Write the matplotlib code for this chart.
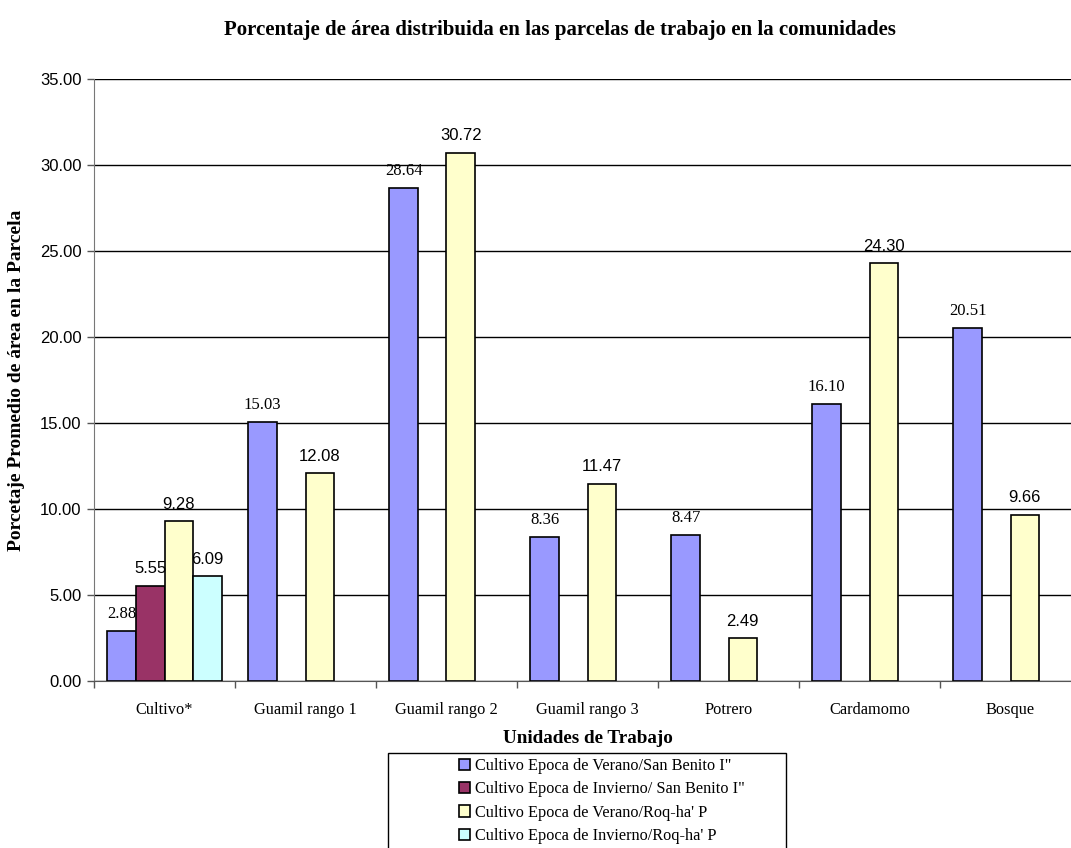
import matplotlib
matplotlib.use("Agg")
import matplotlib.pyplot as plt
from matplotlib.patches import Patch, Rectangle
import numpy as np

categorias = ['Cultivo*', 'Guamil rango 1', 'Guamil rango 2', 'Guamil rango 3',
              'Potrero', 'Cardamomo', 'Bosque']
verano_sb = [2.88, 15.03, 28.64, 8.36, 8.47, 16.10, 20.51]
invierno_sb = [5.55, np.nan, np.nan, np.nan, np.nan, np.nan, np.nan]
verano_rp = [9.28, 12.08, 30.72, 11.47, 2.49, 24.30, 9.66]
invierno_rp = [6.09, np.nan, np.nan, np.nan, np.nan, np.nan, np.nan]

series = [
    ('Cultivo Epoca de Verano/San Benito I"', verano_sb, '#9999FF', 'Liberation Serif'),
    ('Cultivo Epoca de Invierno/ San Benito I"', invierno_sb, '#993366', 'Liberation Sans'),
    ("Cultivo Epoca de Verano/Roq-ha' P", verano_rp, '#FFFFCC', 'Liberation Sans'),
    ("Cultivo Epoca de Invierno/Roq-ha' P", invierno_rp, '#CCFFFF', 'Liberation Sans'),
]

W, H = 1071, 848
fig = plt.figure(figsize=(W / 100, H / 100), dpi=100)
ax = fig.add_axes([94 / W, 1 - 681 / H, 987 / W, 602 / H])

x = np.arange(len(categorias))
width = 0.2025
handles = []
for i, (nombre, vals, color, fuente) in enumerate(series):
    pos = x + (i - 1.5) * width
    vals = np.array(vals, dtype=float)
    ok = ~np.isnan(vals)
    ax.bar(pos[ok], vals[ok], width, color=color, edgecolor='black', linewidth=1.2, zorder=3)
    for p, v in zip(pos[ok], vals[ok]):
        ax.text(p, v + 0.55, '%.2f' % v, ha='center', va='bottom',
                fontsize=12, family=fuente, zorder=4)
    handles.append(Patch(facecolor=color, edgecolor='black', linewidth=1.2, label=nombre))

ax.set_xlim(-0.5, len(categorias) - 0.5)
ax.set_ylim(0, 35)
yt = np.arange(0, 35.01, 5)
ax.set_yticks(yt)
ax.set_yticklabels(['%.2f' % t for t in yt], family='Liberation Sans', fontsize=12)
ax.yaxis.grid(True, color='black', linewidth=1.0, zorder=0)
ax.tick_params(axis='y', length=5, width=1, color='#555555', pad=4)

# marcas entre categorias, etiquetas centradas
ax.set_xticks(np.arange(-0.5, len(categorias), 1))
ax.set_xticklabels([])
ax.tick_params(axis='x', which='major', length=5, width=1, color='#555555')
ax.set_xticks(x, minor=True)
ax.set_xticklabels(categorias, minor=True, family='Liberation Serif', fontsize=11.75)
ax.tick_params(axis='x', which='minor', length=0, pad=15)

for s in ['top', 'right']:
    ax.spines[s].set_visible(False)
ax.spines['left'].set_color('#777777')
ax.spines['bottom'].set_color('#555555')

ax.set_xlabel('Unidades de Trabajo', family='Liberation Serif', fontweight='bold',
              fontsize=13.8, labelpad=9)
fig.text(17 / W, 1 - 380 / H, 'Porcetaje Promedio de área en la Parcela', rotation=90,
         ha='center', va='center', family='Liberation Serif', fontweight='bold', fontsize=14)
fig.text(560 / W, 1 - 30 / H,
         'Porcentaje de área distribuida en las parcelas de trabajo en la comunidades',
         ha='center', va='center', family='Liberation Serif', fontweight='bold', fontsize=15)

# caja de la leyenda
fig.patches.append(Rectangle((388 / W, -0.05), 398 / W, 1 - 753 / H + 0.05,
                             transform=fig.transFigure, fill=False,
                             edgecolor='black', linewidth=1.0))
fig.legend(handles=handles, loc='upper left', bbox_to_anchor=(459 / W, 1 - 758 / H),
           frameon=False, handlelength=0.7, handleheight=0.7, handletextpad=0.3,
           labelspacing=0.45, borderpad=0, borderaxespad=0,
           prop={'family': 'Liberation Serif', 'size': 11.7})

fig.savefig('out.png', dpi=100)
